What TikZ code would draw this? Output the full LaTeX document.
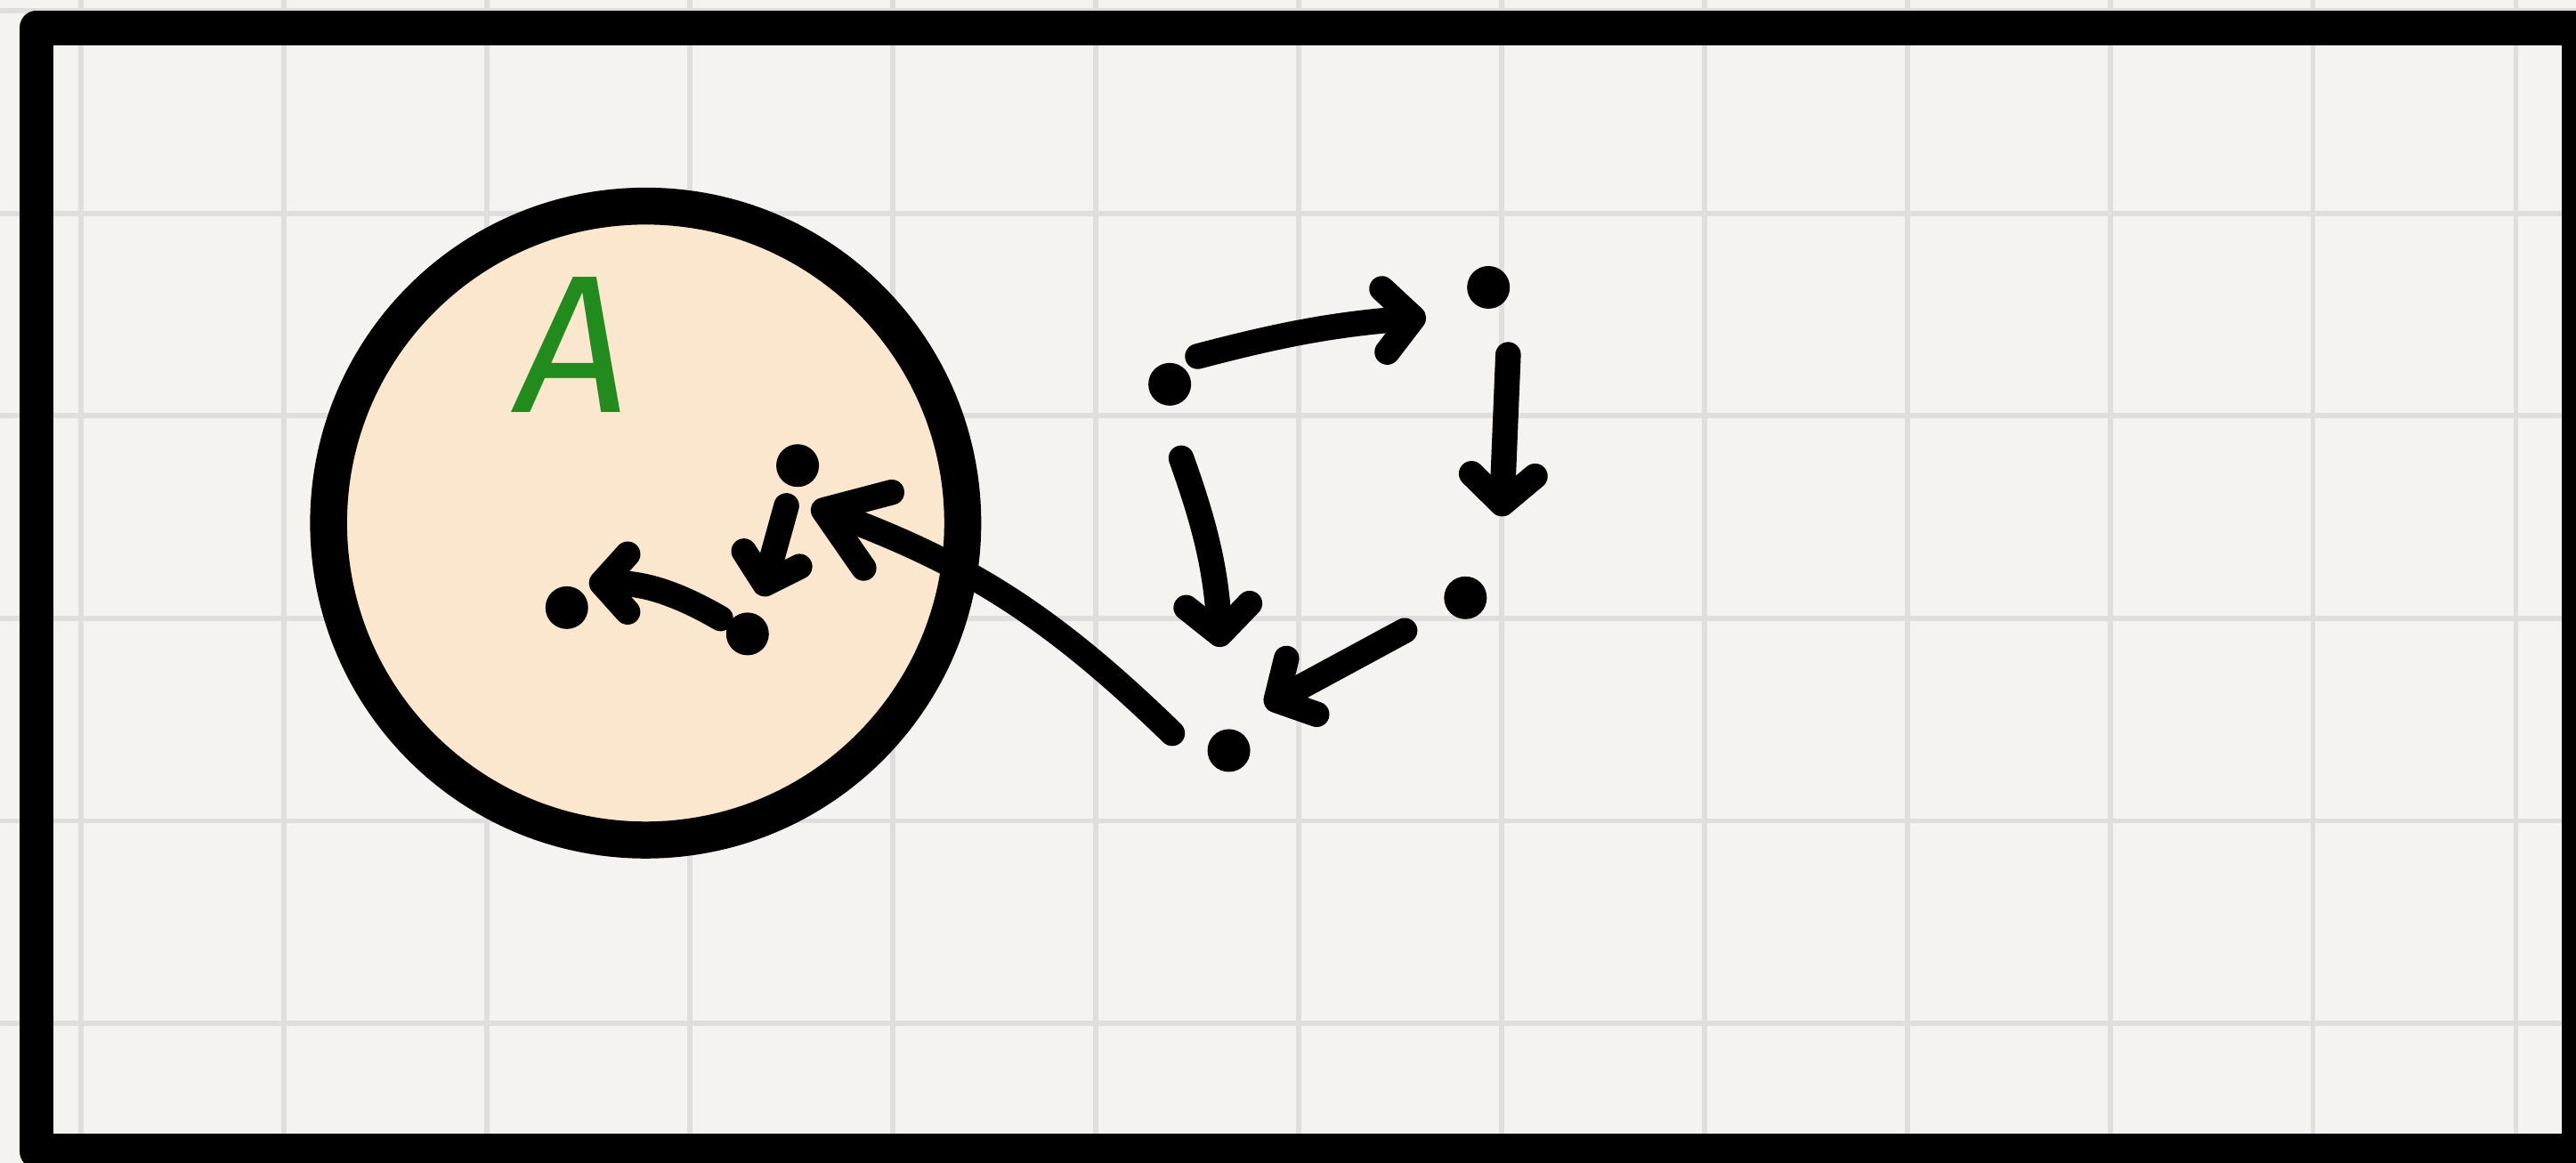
\documentclass[tikz,border=0pt]{standalone}
\usepackage{fontspec}
\setsansfont{Fira Sans}
\usetikzlibrary{arrows.meta}
\definecolor{paper}{RGB}{244,243,239}
\definecolor{gridline}{RGB}{223,222,220}
\definecolor{peach}{RGB}{251,231,205}
\definecolor{leafgreen}{RGB}{34,139,30}

\begin{document}
\begin{tikzpicture}[
  dot/.style={circle,fill=black,inner sep=0pt,minimum size=2.6mm},
  arr/.style={line width=4.4pt,line cap=round,line join=round,
    -{Straight Barb[round,line width=4.4pt,length=5pt,width=11pt]}},
  bigarr/.style={arr,-{Straight Barb[round,line width=4.4pt,length=10pt,width=14pt]}},
  smallarr/.style={arr,-{Straight Barb[round,line width=4.4pt,length=4.5pt,width=10pt]}}
]
%% ─── Paper and grid ─────────────────────────────────────────────────────────
\useasboundingbox (0,0) rectangle (15.68,7.08);
\fill[paper] (0,0) rectangle (15.68,7.08);
\foreach \i in {0,...,12}
  \draw[gridline,line width=0.9pt] ({0.494+1.235*\i},0) -- ++(0,7.08);
\foreach \j in {0,...,5}
  \draw[gridline,line width=0.9pt] (0,{7.014-1.233*\j}) -- ++(15.68,0);
\draw[line width=6pt,line join=round] (0.222,6.91) rectangle (15.7,0.07);
%% ─── Set A ──────────────────────────────────────────────────────────────────
\draw[line width=6.4pt,fill=peach] (3.93,3.895) circle (1.93);
\node[font=\fontsize{34}{34}\selectfont\sffamily\itshape,text=leafgreen]
  (labelA) at (3.49,4.98) {A};
\node[dot] (p1) at (4.855,4.245) {};
\node[dot] (p2) at (4.55,3.22) {};
\node[dot] (p3) at (3.45,3.38) {};
%% ─── Outside points ─────────────────────────────────────────────────────────
\node[dot] (q1) at (7.12,4.74) {};
\node[dot] (q2) at (9.06,5.33) {};
\node[dot] (q3) at (8.92,3.44) {};
\node[dot] (q4) at (7.48,2.51) {};
%% ─── Arrows ─────────────────────────────────────────────────────────────────
\draw[arr] ([shift={(0.17,0.17)}]q1.center) to[bend left=5]
  ([shift={(-0.38,-0.18)}]q2.center);
\draw[arr] ([shift={(0.12,-0.41)}]q2.center) --
  ([shift={(0.22,0.495)}]q3.center);
\draw[arr] ([shift={(0.07,-0.45)}]q1.center) to[bend left=8]
  ([shift={(-0.05,0.63)}]q4.center);
\draw[arr] ([shift={(-0.37,-0.2)}]q3.center) --
  ([shift={(0.22,0.27)}]q4.center);
\draw[bigarr] ([shift={(-0.345,0.105)}]q4.center) to[bend right=12]
  ([shift={(0.085,-0.245)}]p1.center);
\draw[smallarr] ([shift={(-0.068,-0.245)}]p1.center) --
  ([shift={(0.085,0.23)}]p2.center);
\draw[smallarr] ([shift={(-0.164,0.094)}]p2.center) to[bend right=15]
  ([shift={(0.135,0.15)}]p3.center);
\end{tikzpicture}
\end{document}
